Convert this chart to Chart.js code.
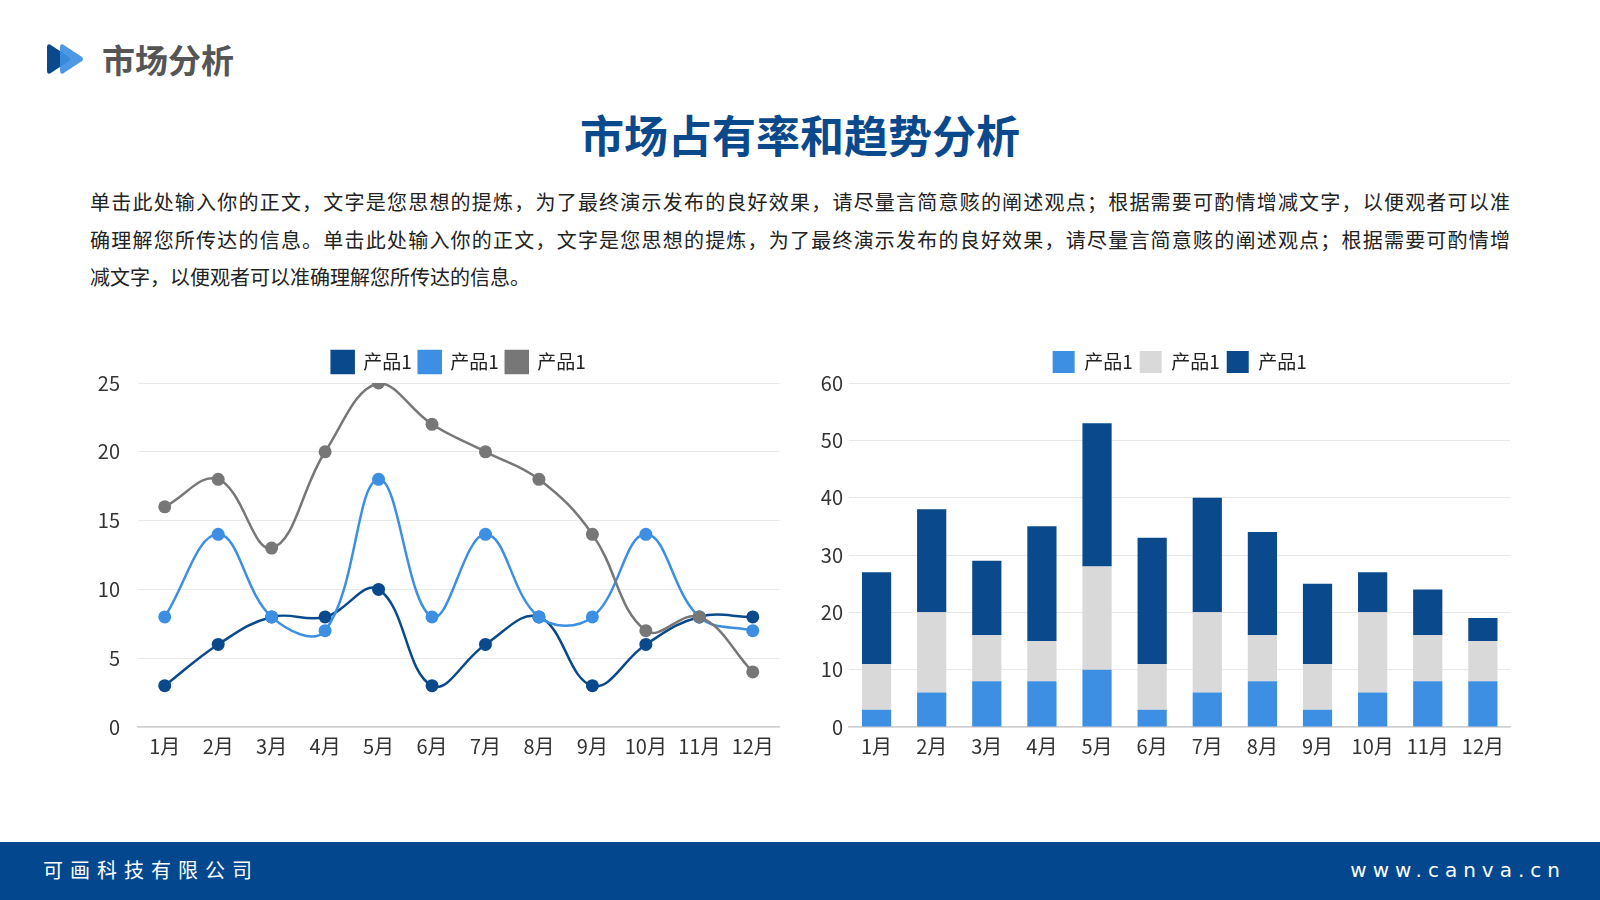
<!DOCTYPE html>
<html>
<head>
<meta charset="utf-8">
<script src="https://cdn.jsdelivr.net/npm/chart.js@4.4.1/dist/chart.umd.min.js"></script>
<style>
  html, body { margin:0; padding:0; width:1600px; height:900px; overflow:hidden; background:#fff;
    font-family:"Noto Sans CJK SC","Noto Sans",sans-serif; }
  .abs { position:absolute; }
  #logo { left:47px; top:43px; width:38px; height:32px; }
  #hdr { left:102px; top:36px; font-size:33px; font-weight:700; color:#555; line-height:46px; }
  #title { left:0; width:1600px; top:104px; text-align:center; font-size:44px; font-weight:700; color:#0a4a8c; line-height:60px; }
  #para { left:90px; width:1420px; top:183px; font-size:20px; color:#222; }
  #para div { line-height:37.5px; height:37.5px; white-space:nowrap; }
  #para .j { text-align:justify; text-align-last:justify; white-space:normal; }
  #footer { left:0; top:842px; width:1600px; height:58px; background:#03488e; }
  #fl { left:43px; top:854px; color:#fff; font-size:20px; letter-spacing:7px; line-height:32px; }
  #fr { right:34px; top:854px; color:#fff; font-size:20px; letter-spacing:6px; line-height:32px; font-family:"DejaVu Sans","Noto Sans",sans-serif; }
  #c1wrap { left:80px; top:341px; width:706px; height:424px; }
  #c2wrap { left:799px; top:341px; width:712px; height:424px; }
</style>
</head>
<body>
<svg id="logo" class="abs" viewBox="0 0 38 32">
  <path d="M3 1.5 Q0 0.5 0 4 L0 28 Q0 31.5 3 30.5 L22 18 Q24 16 22 14 Z" fill="#0a4a8c"/>
  <path d="M16 1.5 Q13 0.5 13 4 L13 28 Q13 31.5 16 30.5 L35 18 Q37 16 35 14 Z" fill="#3d8fe3" fill-opacity="0.92"/>
</svg>
<div id="hdr" class="abs">市场分析</div>
<div id="title" class="abs">市场占有率和趋势分析</div>
<div id="para" class="abs">
  <div class="j">单击此处输入你的正文，文字是您思想的提炼，为了最终演示发布的良好效果，请尽量言简意赅的阐述观点；根据需要可酌情增减文字，以便观者可以准</div>
  <div class="j">确理解您所传达的信息。单击此处输入你的正文，文字是您思想的提炼，为了最终演示发布的良好效果，请尽量言简意赅的阐述观点；根据需要可酌情增</div>
  <div>减文字，以便观者可以准确理解您所传达的信息。</div>
</div>
<div id="c1wrap" class="abs"><canvas id="c1"></canvas></div>
<div id="c2wrap" class="abs"><canvas id="c2"></canvas></div>
<div id="footer" class="abs"></div>
<div id="fl" class="abs">可画科技有限公司</div>
<div id="fr" class="abs">www.canva.cn</div>
<script>
const months = ["1月","2月","3月","4月","5月","6月","7月","8月","9月","10月","11月","12月"];
const seriesNames = ["产品1","产品1","产品1"];
const productA = [3,6,8,8,10,3,6,8,3,6,8,8];
const productB = [8,14,8,7,18,8,14,8,8,14,8,7];
const productC = [16,18,13,20,25,22,20,18,14,7,8,4];

const DARK = "#0a4a8c", LIGHT = "#3d8fe3", GRAY = "#777777", PALE = "#d9d9d9";
const FONT = "'Noto Sans CJK SC','Noto Sans',sans-serif";
Chart.defaults.font.family = FONT;
Chart.defaults.color = "#333";
Chart.defaults.animation = false;

const legendCfg = {
  position: "top", fullSize: false,
  labels: { boxWidth: 22, boxHeight: 22, padding: 7, font: { size: 19 }, color: "#222",
    sort: (a, b) => a.datasetIndex - b.datasetIndex }
};
const xCfg = {
  grid: { display: true, drawOnChartArea: false, drawTicks: false, color: "#d0d0d0" },
  border: { display: true, color: "#d0d0d0", width: 1.5 },
  ticks: { font: { size: 20 }, color: "#333", padding: 7, maxRotation: 0, autoSkip: false }
};
function yCfg(max, step, width, pad) {
  return {
    min: 0, max: max,
    grid: { color: "#e8e8e8", drawTicks: false },
    border: { display: false },
    ticks: { stepSize: step, font: { size: 20 }, color: "#333", padding: pad },
    afterFit: s => { s.width = width; }
  };
}

new Chart(document.getElementById("c1"), {
  type: "line",
  data: {
    labels: months,
    datasets: [
      { label: seriesNames[0], data: productA, borderColor: DARK, backgroundColor: DARK, order: 3 },
      { label: seriesNames[1], data: productB, borderColor: LIGHT, backgroundColor: LIGHT, order: 2 },
      { label: seriesNames[2], data: productC, borderColor: GRAY, backgroundColor: GRAY, order: 1 }
    ].map(d => Object.assign(d, { tension: 0.4, borderWidth: 2.5, pointRadius: 6.5, pointBorderWidth: 0, pointBackgroundColor: d.borderColor }))
  },
  options: {
    responsive: true, maintainAspectRatio: false,
    layout: { padding: { top: 3 } },
    plugins: { legend: legendCfg, tooltip: { enabled: false } },
    scales: { x: Object.assign({ offset: true }, xCfg), y: yCfg(25, 5, 58, 18) }
  }
});

new Chart(document.getElementById("c2"), {
  type: "bar",
  data: {
    labels: months,
    datasets: [
      { label: seriesNames[0], data: productA, backgroundColor: LIGHT },
      { label: seriesNames[1], data: productB, backgroundColor: PALE },
      { label: seriesNames[2], data: productC, backgroundColor: DARK }
    ].map(d => Object.assign(d, { barPercentage: 1, categoryPercentage: 0.53, borderWidth: 0 }))
  },
  options: {
    responsive: true, maintainAspectRatio: false,
    layout: { padding: { top: 3 } },
    plugins: { legend: legendCfg, tooltip: { enabled: false } },
    scales: {
      x: Object.assign({ stacked: true }, xCfg),
      y: Object.assign(yCfg(60, 10, 50, 6), { stacked: true })
    }
  }
});
</script>
</body>
</html>
